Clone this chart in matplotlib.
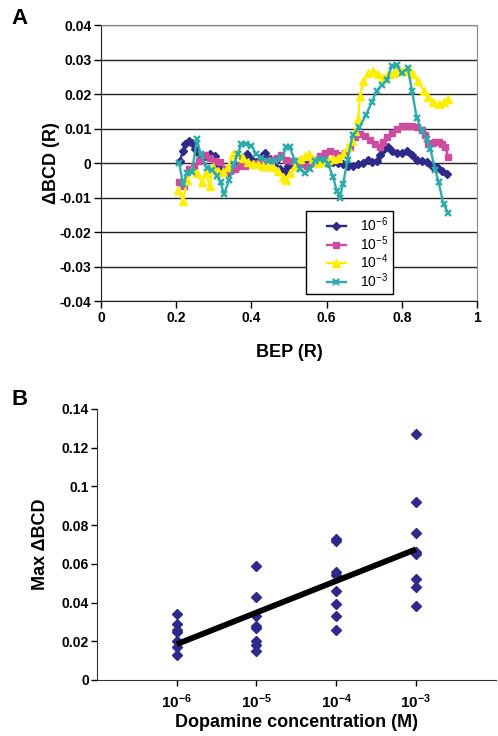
import matplotlib
matplotlib.use("Agg")
import matplotlib.pyplot as plt
from matplotlib.legend_handler import HandlerLine2D
import numpy as np

plt.rcParams['font.family'] = ['Liberation Sans', 'DejaVu Sans']
plt.rcParams['mathtext.fontset'] = 'custom'
plt.rcParams['mathtext.rm'] = 'Liberation Sans'
plt.rcParams['mathtext.bf'] = 'Liberation Sans:bold'
plt.rcParams['mathtext.it'] = 'Liberation Sans:italic'

# ---------------- Panel A data ----------------
navy_x = [0.210, 0.218, 0.224, 0.233, 0.242, 0.251, 0.260, 0.276, 0.289, 0.302, 0.311, 0.324, 0.338, 0.351,
          0.364, 0.378, 0.387, 0.400, 0.413, 0.427, 0.436, 0.449, 0.462, 0.476, 0.489, 0.498, 0.511, 0.524,
          0.538, 0.551, 0.564, 0.578, 0.591, 0.604, 0.618, 0.631, 0.644, 0.658, 0.671, 0.684, 0.698, 0.711,
          0.720, 0.733, 0.742, 0.751, 0.764, 0.773, 0.787, 0.800, 0.813, 0.827, 0.840, 0.853, 0.867, 0.880,
          0.893, 0.907, 0.920]
navy_y = [0.0005, 0.0036, 0.0055, 0.0063, 0.0057, 0.0040, 0.0026, 0.0020, 0.0026, 0.0020, -0.0003, -0.0017,
          -0.0027, -0.0017, -0.0008, 0.0016, 0.0026, 0.0012, 0.0002, 0.0020, 0.0030, 0.0012, 0.0002, -0.0017,
          -0.0022, -0.0008, 0.0002, -0.0003, 0.0007, -0.0001, 0.0002, 0.0007, 0.0009, 0.0000, 0.0002, 0.0000,
          -0.0003, -0.0010, -0.0008, -0.0003, 0.0000, 0.0010, 0.0002, 0.0007, 0.0024, 0.0037, 0.0045, 0.0036,
          0.0030, 0.0030, 0.0036, 0.0024, 0.0009, 0.0007, 0.0002, -0.0008, -0.0012, -0.0024, -0.0032]

magenta_x = [0.208, 0.220, 0.233, 0.247, 0.260, 0.276, 0.289, 0.302, 0.316, 0.331, 0.344, 0.356, 0.369, 0.382,
             0.391, 0.404, 0.418, 0.431, 0.440, 0.453, 0.467, 0.480, 0.493, 0.507, 0.520, 0.533, 0.547, 0.560,
             0.569, 0.582, 0.596, 0.609, 0.622, 0.636, 0.649, 0.662, 0.676, 0.689, 0.702, 0.716, 0.729, 0.742,
             0.751, 0.760, 0.773, 0.787, 0.800, 0.813, 0.827, 0.840, 0.853, 0.862, 0.871, 0.880, 0.889, 0.898,
             0.907, 0.916, 0.924]
magenta_y = [-0.0056, -0.0066, -0.0017, -0.0010, 0.0007, 0.0024, 0.0016, 0.0007, 0.0002, -0.0017, -0.0022,
             -0.0017, -0.0008, -0.0008, -0.0003, -0.0003, -0.0001, -0.0012, -0.0003, 0.0009, 0.0016, 0.0024,
             0.0009, 0.0007, -0.0003, -0.0003, -0.0008, -0.0001, 0.0009, 0.0020, 0.0030, 0.0036, 0.0030, 0.0024,
             0.0030, 0.0045, 0.0074, 0.0084, 0.0079, 0.0067, 0.0055, 0.0045, 0.0060, 0.0074, 0.0088, 0.0100,
             0.0106, 0.0108, 0.0108, 0.0105, 0.0095, 0.0080, 0.0055, 0.0058, 0.0062, 0.0060, 0.0055, 0.0045,
             0.0017]

yellow_x = [0.206, 0.218, 0.229, 0.242, 0.256, 0.269, 0.278, 0.289, 0.298, 0.311, 0.324, 0.338, 0.351, 0.364,
            0.378, 0.391, 0.404, 0.418, 0.431, 0.444, 0.458, 0.471, 0.484, 0.493, 0.504, 0.516, 0.529, 0.542,
            0.553, 0.564, 0.578, 0.591, 0.604, 0.618, 0.631, 0.644, 0.658, 0.667, 0.676, 0.684, 0.689, 0.698,
            0.711, 0.724, 0.738, 0.751, 0.764, 0.778, 0.791, 0.804, 0.818, 0.831, 0.844, 0.858, 0.871, 0.884,
            0.898, 0.911, 0.924]
yellow_y = [-0.0077, -0.0110, -0.0050, -0.0020, -0.0030, -0.0056, -0.0030, -0.0066, -0.0012, -0.0022, -0.0027,
            -0.0012, 0.0026, 0.0028, 0.0016, 0.0002, -0.0003, -0.0003, -0.0010, -0.0008, -0.0012, -0.0022,
            -0.0040, -0.0050, -0.0030, -0.0008, 0.0012, 0.0020, 0.0026, 0.0012, -0.0001, 0.0007, 0.0009, 0.0012,
            0.0016, 0.0026, 0.0045, 0.0064, 0.0093, 0.0127, 0.0195, 0.0238, 0.0262, 0.0267, 0.0258, 0.0246,
            0.0258, 0.0262, 0.0272, 0.0267, 0.0272, 0.0258, 0.0238, 0.0210, 0.0190, 0.0176, 0.0170, 0.0176,
            0.0185]

teal_x = [0.208, 0.218, 0.229, 0.242, 0.255, 0.265, 0.282, 0.296, 0.309, 0.318, 0.327, 0.341, 0.353, 0.364,
          0.373, 0.386, 0.400, 0.413, 0.426, 0.444, 0.462, 0.480, 0.493, 0.502, 0.516, 0.529, 0.542, 0.556,
          0.569, 0.582, 0.595, 0.604, 0.617, 0.627, 0.635, 0.644, 0.656, 0.669, 0.687, 0.705, 0.720, 0.733,
          0.747, 0.760, 0.773, 0.787, 0.800, 0.816, 0.827, 0.840, 0.853, 0.867, 0.876, 0.889, 0.898, 0.911,
          0.924]
teal_y = [0.0000, -0.0060, -0.0030, -0.0027, 0.0069, 0.0026, -0.0013, -0.0020, -0.0037, -0.0056, -0.0090,
          -0.0050, -0.0003, 0.0026, 0.0055, 0.0055, 0.0050, 0.0026, 0.0016, 0.0007, 0.0007, 0.0016, 0.0045,
          0.0045, 0.0007, -0.0017, -0.0030, -0.0017, 0.0007, 0.0012, 0.0010, -0.0002, -0.0040, -0.0080,
          -0.0100, -0.0060, 0.0010, 0.0080, 0.0103, 0.0140, 0.0176, 0.0210, 0.0225, 0.0240, 0.0280, 0.0283,
          0.0260, 0.0275, 0.0210, 0.0130, 0.0095, 0.0070, 0.0040, -0.0020, -0.0055, -0.0120, -0.0145]

series_labels = ['$10^{-6}$', '$10^{-5}$', '$10^{-4}$', '$10^{-3}$']

# ---------------- Panel B data ----------------
conc_levels = [1e-6, 1e-5, 1e-4, 1e-3]
conc_tick_labels = ['$\\mathbf{10^{-6}}$', '$\\mathbf{10^{-5}}$', '$\\mathbf{10^{-4}}$', '$\\mathbf{10^{-3}}$']
max_1e6 = [0.034, 0.029, 0.026, 0.025, 0.020, 0.017, 0.013]
max_1e5 = [0.059, 0.043, 0.033, 0.028, 0.027, 0.020, 0.018, 0.015]
max_1e4 = [0.073, 0.072, 0.056, 0.054, 0.046, 0.039, 0.033, 0.026]
max_1e3 = [0.127, 0.092, 0.076, 0.066, 0.065, 0.052, 0.048, 0.038]
trend_conc = [1e-6, 1e-3]
trend_val = [0.0185, 0.0675]

# ---------------- Figure ----------------
fig = plt.figure(figsize=(4.98, 7.36), dpi=100)

axA = fig.add_axes([0.2028, 0.591, 0.755, 0.375])
styles = [
    (navy_x, navy_y, '#2D2A8A', 'D', 4.2, 1.0),
    (magenta_x, magenta_y, '#CC4C9E', 's', 4.4, 1.0),
    (yellow_x, yellow_y, '#FFEE00', '^', 5.2, 1.0),
    (teal_x, teal_y, '#2EAAAA', 'x', 4.8, 1.7),
]
for (xs, ys, col, mk, ms, mew), lab in zip(styles, series_labels):
    axA.plot(xs, ys, color=col, marker=mk, markersize=ms, markeredgewidth=mew,
             linewidth=1.7, label=lab)
axA.set_xlim(0, 1)
axA.set_ylim(-0.04, 0.04)
axA.set_yticks(np.arange(-0.04, 0.0401, 0.01))
axA.set_yticklabels(['-0.04', '-0.03', '-0.02', '-0.01', '0', '0.01', '0.02', '0.03', '0.04'])
axA.set_xticks([0, 0.2, 0.4, 0.6, 0.8, 1.0])
axA.set_xticklabels(['0', '0.2', '0.4', '0.6', '0.8', '1'])
axA.yaxis.grid(True, color='#222222', linewidth=1.0)
axA.set_axisbelow(True)
for s in ['top', 'right']:
    axA.spines[s].set_color('#888888')
for s in ['left', 'bottom']:
    axA.spines[s].set_color('#222222')
axA.tick_params(direction='out', length=5, width=1, labelsize=10, pad=2)
for t in axA.get_xticklabels() + axA.get_yticklabels():
    t.set_fontweight('bold')
axA.set_xlabel('BEP (R)', fontsize=13, fontweight='bold', labelpad=14)
axA.set_ylabel('ΔBCD (R)', fontsize=13, fontweight='bold', labelpad=0)
hmap = {ln: HandlerLine2D(xpad=1.2) for ln in axA.get_lines()}
leg = axA.legend(loc='lower left', bbox_to_anchor=(0.545, 0.025), fontsize=10,
                 frameon=True, fancybox=False, edgecolor='black', framealpha=1,
                 handlelength=2.6, borderpad=0.3, labelspacing=0.0, handletextpad=1.0,
                 borderaxespad=0, handler_map=hmap)
leg.get_frame().set_linewidth(1.0)
fig.text(0.04, 0.975, 'A', fontsize=16, fontweight='bold', ha='center', va='center')

axB = fig.add_axes([0.195, 0.0761, 0.8, 0.3682])
for c, vals in zip(conc_levels, [max_1e6, max_1e5, max_1e4, max_1e3]):
    axB.plot([c] * len(vals), vals, linestyle='none', marker='D', markersize=5.3,
             color='#2D2A8A')
axB.plot(trend_conc, trend_val, color='black', linewidth=4.2, solid_capstyle='butt')
axB.set_xscale('log')
axB.set_xlim(1e-7, 1e-2)
axB.set_ylim(0, 0.14)
axB.set_xticks(conc_levels)
axB.set_xticklabels(conc_tick_labels)
axB.xaxis.set_minor_locator(matplotlib.ticker.NullLocator())
axB.set_yticks([0, 0.02, 0.04, 0.06, 0.08, 0.10, 0.12, 0.14])
axB.set_yticklabels(['0', '0.02', '0.04', '0.06', '0.08', '0.1', '0.12', '0.14'])
axB.spines['top'].set_visible(False)
axB.spines['right'].set_visible(False)
axB.spines['left'].set_color('#333333')
axB.spines['bottom'].set_color('#333333')
axB.tick_params(direction='out', length=4, width=1, labelsize=10, pad=2)
for t in axB.get_yticklabels():
    t.set_fontweight('bold')
axB.tick_params(axis='x', labelsize=11, pad=5)
axB.set_xlabel('Dopamine concentration (M)', fontsize=13, fontweight='bold', labelpad=2)
axB.set_ylabel('Max ΔBCD', fontsize=13, fontweight='bold', labelpad=9)
fig.text(0.04, 0.457, 'B', fontsize=16, fontweight='bold', ha='center', va='center')

fig.savefig('out.png', dpi=100)
